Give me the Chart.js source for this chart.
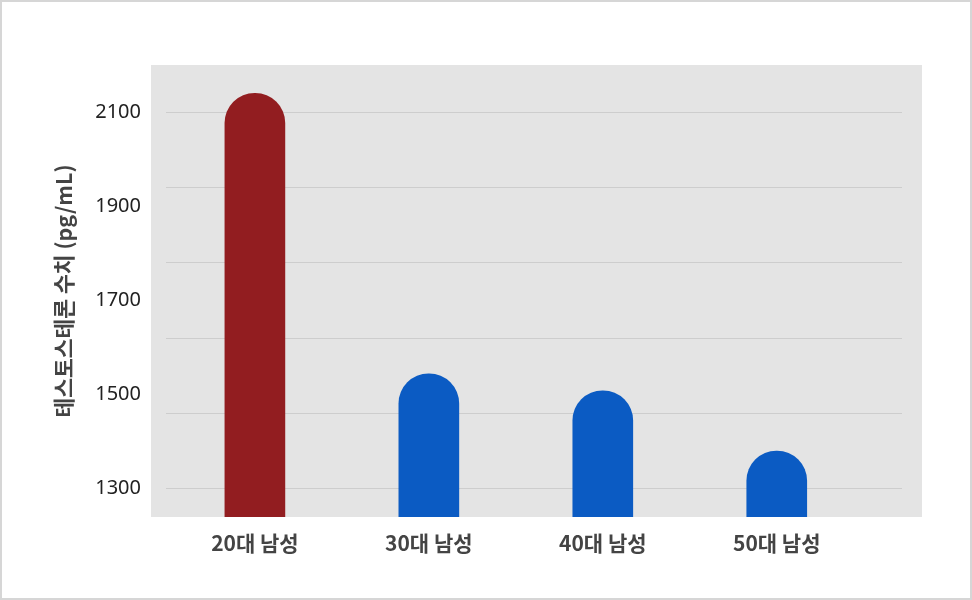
<!DOCTYPE html>
<html>
<head>
<meta charset="utf-8">
<script src="https://cdn.jsdelivr.net/npm/chart.js@4"></script>
<style>
  html, body { margin: 0; padding: 0; background: #fff; }
  #wrap {
    width: 972px; height: 600px; box-sizing: border-box;
    border: 2px solid #d6d6d6; background: #fff;
  }
  #wrap canvas { display: block; }
</style>
</head>
<body>
<div id="wrap"><canvas id="myChart" width="968" height="596"></canvas></div>
<script>
// data
const CATEGORIES = ['20대 남성', '30대 남성', '40대 남성', '50대 남성']
const LEVELS = [2140, 1544, 1508, 1380]
const BAR_COLORS = ['#921d20', '#0b5bc3', '#0b5bc3', '#0b5bc3']
const Y_LABELS = [1300, 1500, 1700, 1900, 2100]
const Y_GRID = [1300, 1460, 1620, 1780, 1940, 2100]
const Y_MIN = 1240
const Y_MAX = 2200

// grey panel, a bit wider than the grid lines
const panelBg = {
  id: 'panelBg',
  beforeDraw: chart => {
    const { ctx, chartArea: a } = chart
    ctx.save()
    ctx.fillStyle = '#e4e4e4'
    ctx.fillRect(a.left - 15, a.top, a.right - a.left + 35, a.bottom - a.top)
    ctx.restore()
  }
}

let yTicks = [...new Set([...Y_LABELS, ...Y_GRID])].sort((p, q) => p - q)

let ctx = document.getElementById('myChart')
let myChart = new Chart(ctx, {
  type: 'bar',
  data: {
    datasets: [{
      data: LEVELS.map((v, i) => ({ x: i, y: v })),
      backgroundColor: BAR_COLORS,
      borderRadius: 30,
      borderSkipped: 'start',
      barThickness: 60,
      base: Y_MIN
    }]
  },
  options: {
    responsive: false,
    animation: false,
    devicePixelRatio: 1,
    layout: { padding: { top: 63, right: 68, left: 37, bottom: 0 } },
    plugins: {
      legend: { display: false },
      tooltip: { enabled: false }
    },
    scales: {
      x: {
        type: 'linear',
        min: -0.511,
        max: 3.72,
        offset: false,
        grid: { display: false, offset: false },
        border: { display: false },
        afterBuildTicks: axis => { axis.ticks = CATEGORIES.map((c, i) => ({ value: i })) },
        afterFit: axis => { axis.height = 81 },
        ticks: {
          autoSkip: false,
          maxRotation: 0,
          padding: 5,
          color: '#444',
          font: { family: '"Noto Sans CJK KR", sans-serif', size: 21, weight: 'bold' },
          callback: v => CATEGORIES[v]
        }
      },
      y: {
        min: Y_MIN,
        max: Y_MAX,
        border: { display: false },
        grid: {
          drawTicks: false,
          lineWidth: 1,
          color: c => (c.tick && Y_GRID.includes(c.tick.value)) ? '#cdcdcd' : 'rgba(0,0,0,0)'
        },
        afterBuildTicks: axis => { axis.ticks = yTicks.map(v => ({ value: v })) },
        afterFit: axis => { axis.width = 127 },
        ticks: {
          autoSkip: false,
          padding: 25,
          color: '#222',
          font: { family: '"Noto Sans", sans-serif', size: 20 },
          callback: v => Y_LABELS.includes(v) ? String(v) : ''
        },
        title: {
          display: true,
          text: '테스토스테론 수치 (pg/mL)',
          color: '#444',
          padding: { top: 12, bottom: 0 },
          font: { family: '"Noto Sans CJK KR", sans-serif', size: 21.5, weight: 'bold' }
        }
      }
    }
  },
  plugins: [panelBg]
})
</script>
</body>
</html>
